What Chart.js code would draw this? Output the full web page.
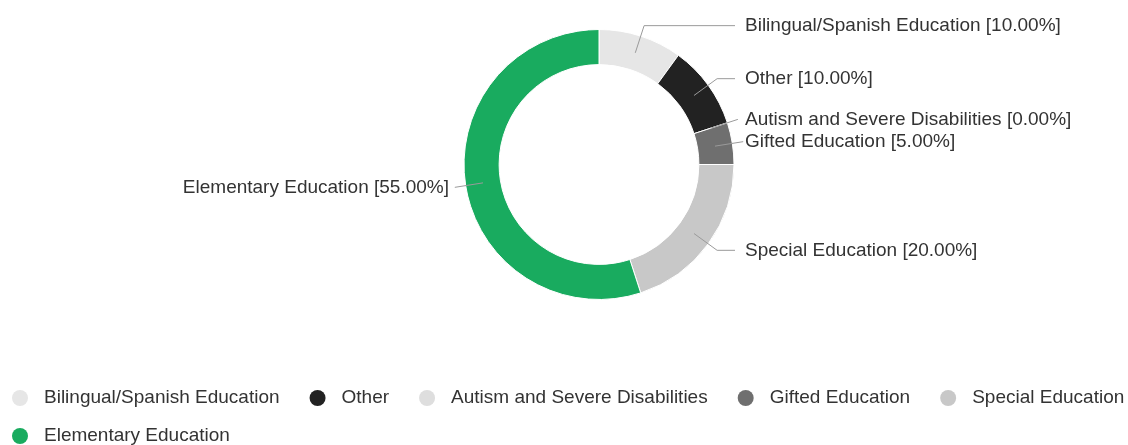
<!DOCTYPE html>
<html>
<head>
<meta charset="utf-8">
<script src="https://cdn.jsdelivr.net/npm/chart.js@4/dist/chart.umd.min.js"></script>
<style>
  html, body { margin: 0; padding: 0; background: #fff; }
  #contenedor { width: 1128px; height: 445px; position: relative; }
</style>
</head>
<body>
<div id="contenedor"><canvas id="grafico"></canvas></div>
<script>
// Categorías y porcentajes de la dona
const categorias = [
  'Bilingual/Spanish Education',
  'Other',
  'Autism and Severe Disabilities',
  'Gifted Education',
  'Special Education',
  'Elementary Education'
];
const porcentajes = [10, 10, 0, 5, 20, 55];
const colores = ['#e6e6e6', '#222222', '#dedede', '#6f6f6f', '#c8c8c8', '#19ab5f'];

const fuente = '19px "Liberation Sans", Arial, sans-serif';
const colorTexto = '#333333';

// Etiquetas exteriores con línea guía hasta cada sector
const etiquetasConLinea = {
  id: 'etiquetasConLinea',
  afterDatasetsDraw(chart) {
    const ctx = chart.ctx;
    const arcos = chart.getDatasetMeta(0).data;
    ctx.save();
    ctx.font = fuente;
    ctx.textBaseline = 'middle';
    arcos.forEach((arco, i) => {
      const p = arco.getProps(['x', 'y', 'startAngle', 'endAngle', 'innerRadius', 'outerRadius'], true);
      const medio = (p.startAngle + p.endAngle) / 2;
      const rMedio = (p.innerRadius + p.outerRadius) / 2;
      const rCodo = p.outerRadius + 11;
      const x0 = p.x + Math.cos(medio) * rMedio;
      const y0 = p.y + Math.sin(medio) * rMedio;
      const x1 = p.x + Math.cos(medio) * rCodo;
      const y1 = p.y + Math.sin(medio) * rCodo;
      const derecha = Math.cos(medio) >= 0;
      const x2 = derecha ? Math.max(x1, p.x + p.outerRadius + 1) : Math.min(x1, p.x - p.outerRadius - 1);

      ctx.strokeStyle = '#9a9a9a';
      ctx.lineWidth = 1;
      ctx.beginPath();
      ctx.moveTo(x0, y0);
      ctx.lineTo(x1, y1);
      ctx.lineTo(x2, y1);
      ctx.stroke();

      const texto = categorias[i] + ' [' + porcentajes[i].toFixed(2) + '%]';
      ctx.fillStyle = colorTexto;
      if (derecha) {
        ctx.textAlign = 'left';
        ctx.fillText(texto, p.x + p.outerRadius + 11, y1);
      } else {
        ctx.textAlign = 'right';
        ctx.fillText(texto, p.x - p.outerRadius - 15, y1);
      }
    });
    ctx.restore();
  }
};

// Leyenda inferior con círculos, en filas alineadas a la izquierda
const leyendaInferior = {
  id: 'leyendaInferior',
  afterDraw(chart) {
    const ctx = chart.ctx;
    ctx.save();
    ctx.font = fuente;
    ctx.textBaseline = 'middle';
    ctx.textAlign = 'left';
    let x = 12;
    let y = 398;
    categorias.forEach((nombre, i) => {
      const ancho = 32 + ctx.measureText(nombre).width;
      if (x + ancho > chart.width && x > 12) {
        x = 12;
        y += 38;
      }
      ctx.fillStyle = colores[i];
      ctx.beginPath();
      ctx.arc(x + 8, y, 8, 0, Math.PI * 2);
      ctx.fill();
      ctx.fillStyle = colorTexto;
      ctx.fillText(nombre, x + 32, y);
      x += ancho + 30;
    });
    ctx.restore();
  }
};

let grafico = document.getElementById('grafico').getContext('2d');

let diagrama = new Chart(grafico, {
  type: 'doughnut',
  data: {
    labels: categorias,
    datasets: [{
      data: porcentajes,
      backgroundColor: colores,
      borderColor: '#ffffff',
      borderWidth: 1,
      hoverOffset: 0
    }]
  },
  options: {
    responsive: true,
    maintainAspectRatio: false,
    animation: false,
    cutout: '74%',
    layout: {
      padding: { top: 29, bottom: 145, left: 70, right: 0 }
    },
    plugins: {
      legend: { display: false },
      tooltip: { enabled: false }
    }
  },
  plugins: [etiquetasConLinea, leyendaInferior]
});
</script>
</body>
</html>
